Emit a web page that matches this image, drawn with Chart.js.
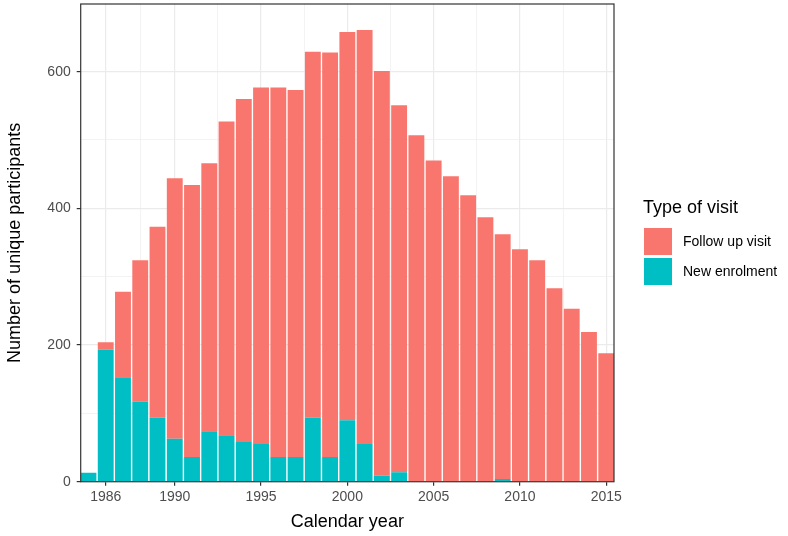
<!DOCTYPE html>
<html lang="en">
<head>
  <meta charset="UTF-8" />
  <title>Participants by calendar year</title>
  <script src="https://cdn.jsdelivr.net/npm/chart.js"></script>
  <style>
    body {
      margin: 0;
      background: white;
      font-family: 'Liberation Sans', Arial, sans-serif;
    }

    .wrap {
      position: relative;
      width: 788px;
      height: 536px;
    }

    .legend {
      position: absolute;
      left: 643px;
      top: 196px;
      color: black;
    }

    .legend .title {
      font-size: 18px;
      line-height: 22px;
      margin-bottom: 8px;
    }

    .legend .row {
      display: flex;
      align-items: center;
      height: 30px;
    }

    .legend .key {
      width: 28px;
      height: 27px;
      margin-left: 1px;
      margin-right: 11px;
    }

    .legend .label {
      font-size: 14px;
      color: black;
    }
  </style>
</head>
<body>

  <div class="wrap">
    <canvas id="visitChart" width="788" height="536"></canvas>
    <div class="legend">
      <div class="title">Type of visit</div>
      <div class="row"><div class="key" style="background:#F8766D"></div><span class="label">Follow up visit</span></div>
      <div class="row"><div class="key" style="background:#00BFC4"></div><span class="label">New enrolment</span></div>
    </div>
  </div>

  <script>
    const years = [1985, 1986, 1987, 1988, 1989, 1990, 1991, 1992, 1993, 1994,
                   1995, 1996, 1997, 1998, 1999, 2000, 2001, 2002, 2003, 2004,
                   2005, 2006, 2007, 2008, 2009, 2010, 2011, 2012, 2013, 2014, 2015];

    const newEnrolment = [13, 193, 153, 117, 94, 63, 36, 74, 68, 58,
                          55, 36, 36, 94, 36, 90, 55, 9, 14, 0,
                          0, 0, 0, 0, 4, 0, 0, 0, 0, 0, 0];

    const followUp = [0, 11, 125, 207, 279, 381, 398, 392, 459, 502,
                      522, 541, 537, 535, 592, 568, 606, 592, 537, 507,
                      470, 447, 419, 387, 358, 340, 324, 283, 253, 219, 188];

    const xMajor = [1986, 1990, 1995, 2000, 2005, 2010, 2015];
    const xMinor = [1988, 1992.5, 1997.5, 2002.5, 2007.5, 2012.5];
    const yMajor = [0, 200, 400, 600];
    const yMinor = [100, 300, 500];

    const gridCol = '#EBEBEB';
    const axisCol = '#333333';

    const panelBorder = {
      id: 'panelBorder',
      afterDatasetsDraw(chart) {
        const a = chart.chartArea;
        const ctx = chart.ctx;
        ctx.save();
        ctx.strokeStyle = axisCol;
        ctx.lineWidth = 1.2;
        ctx.strokeRect(a.left, a.top, a.right - a.left, a.bottom - a.top);
        ctx.restore();
      }
    };

    function isMajor(list, v) {
      return list.indexOf(v) !== -1;
    }

    new Chart(document.getElementById('visitChart'), {
      type: 'bar',
      data: {
        datasets: [
          {
            label: 'New enrolment',
            data: years.map((yr, i) => ({ x: yr, y: newEnrolment[i] })),
            backgroundColor: '#00BFC4',
            borderWidth: 0
          },
          {
            label: 'Follow up visit',
            data: years.map((yr, i) => ({ x: yr, y: followUp[i] })),
            backgroundColor: '#F8766D',
            borderWidth: 0
          }
        ]
      },
      options: {
        responsive: false,
        animation: false,
        barPercentage: 0.92,
        categoryPercentage: 1,
        layout: {
          padding: { top: 4, right: 174, left: 0, bottom: 0 }
        },
        plugins: {
          legend: { display: false },
          tooltip: { enabled: false }
        },
        scales: {
          x: {
            type: 'linear',
            stacked: true,
            offset: false,
            min: 1984.55,
            max: 2015.45,
            afterBuildTicks(scale) {
              scale.ticks = xMajor.concat(xMinor).sort((a, b) => a - b).map(v => ({ value: v }));
            },
            afterFit(scale) {
              scale.height = 54.3;
              scale.paddingLeft = 0;
              scale.paddingRight = 0;
            },
            grid: {
              offset: false,
              color: gridCol,
              lineWidth: (c) => isMajor(xMajor, c.tick && c.tick.value) ? 1.2 : 0.6,
              tickColor: (c) => isMajor(xMajor, c.tick && c.tick.value) ? axisCol : 'rgba(0,0,0,0)',
              tickLength: 4,
              tickWidth: 1.2
            },
            border: { display: false },
            ticks: {
              autoSkip: false,
              maxRotation: 0,
              padding: 3,
              color: '#4D4D4D',
              font: { family: 'Liberation Sans', size: 14 },
              callback: (v) => isMajor(xMajor, v) ? String(v) : ''
            },
            title: {
              display: true,
              text: 'Calendar year',
              color: 'black',
              font: { family: 'Liberation Sans', size: 18 },
              padding: { top: 0, bottom: 3 }
            }
          },
          y: {
            stacked: true,
            min: 0,
            max: 699,
            afterBuildTicks(scale) {
              scale.ticks = yMajor.concat(yMinor).sort((a, b) => a - b).map(v => ({ value: v }));
            },
            afterFit(scale) {
              scale.width = 80.7;
              scale.paddingTop = 0;
              scale.paddingBottom = 0;
            },
            grid: {
              color: gridCol,
              lineWidth: (c) => isMajor(yMajor, c.tick && c.tick.value) ? 1.2 : 0.6,
              tickColor: (c) => isMajor(yMajor, c.tick && c.tick.value) ? axisCol : 'rgba(0,0,0,0)',
              tickLength: 4,
              tickWidth: 1.2
            },
            border: { display: false },
            ticks: {
              padding: 6,
              color: '#4D4D4D',
              font: { family: 'Liberation Sans', size: 14 },
              callback: (v) => isMajor(yMajor, v) ? String(v) : ''
            },
            title: {
              display: true,
              text: 'Number of unique participants',
              color: 'black',
              font: { family: 'Liberation Sans', size: 18 },
              padding: { top: 4, bottom: 0 }
            }
          }
        }
      },
      plugins: [panelBorder]
    });
  </script>
</body>
</html>
